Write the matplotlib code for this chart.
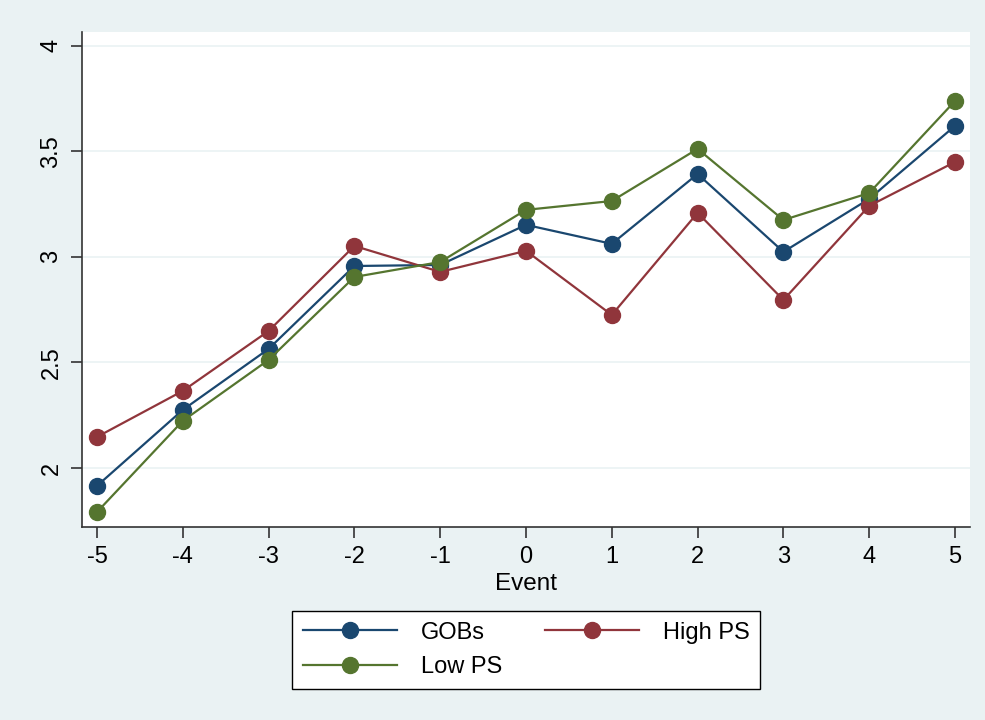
import matplotlib.pyplot as plt

events = [-5, -4, -3, -2, -1, 0, 1, 2, 3, 4, 5]
gobs = [1.915, 2.275, 2.564, 2.957, 2.962, 3.152, 3.062, 3.393, 3.024, 3.275, 3.621]
high_ps = [2.147, 2.365, 2.649, 3.052, 2.929, 3.029, 2.725, 3.209, 2.796, 3.242, 3.450]
low_ps = [1.791, 2.223, 2.512, 2.905, 2.976, 3.223, 3.265, 3.512, 3.175, 3.303, 3.739]
yticks = [2, 2.5, 3, 3.5, 4]
ytick_labels = ["2", "2.5", "3", "3.5", "4"]

plt.rcParams['font.family'] = ['Liberation Sans', 'DejaVu Sans']

bg = '#EAF2F3'
fig = plt.figure(figsize=(9.85, 7.2), dpi=100, facecolor=bg)
ax = fig.add_axes([0.0832, 0.268, 0.9016, 0.6876])
ax.set_facecolor('white')

ln1, = ax.plot(events, gobs, color='#1A476F', lw=1.6, marker='o', ms=11.5, label='GOBs')
ln2, = ax.plot(events, high_ps, color='#90353B', lw=1.6, marker='o', ms=11.5, label='High PS')
ln3, = ax.plot(events, low_ps, color='#55752F', lw=1.6, marker='o', ms=11.5, label='Low PS')

ax.set_xlim(-5.175, 5.175)
ax.set_ylim(1.72, 4.066)
ax.set_xticks(events)
ax.set_xticklabels([str(e) for e in events], fontsize=17)
ax.set_yticks(yticks)
ax.set_yticklabels(ytick_labels, fontsize=17, rotation=90, va='center')
ax.grid(axis='y', color=bg, lw=1.2)
ax.set_axisbelow(True)
for s in ['top', 'right']:
    ax.spines[s].set_visible(False)
for s in ['left', 'bottom']:
    ax.spines[s].set_color('#333333')
    ax.spines[s].set_linewidth(1.2)
ax.tick_params(direction='out', length=8, width=1.2, color='#333333', pad=6)
ax.set_xlabel('Event', fontsize=17.5, labelpad=3)

leg = fig.legend([ln1, ln3, ln2], ['GOBs', 'Low PS', 'High PS'], ncol=2,
                 loc='center', bbox_to_anchor=(526 / 985, 1 - 650 / 720),
                 fontsize=17, frameon=True, fancybox=False, edgecolor='black',
                 facecolor='white', framealpha=1,
                 handlelength=4.0, columnspacing=1.8, handletextpad=1.0,
                 labelspacing=0.55, borderpad=0.45)
leg.get_frame().set_linewidth(1.0)

fig.savefig('out.png', dpi=100, facecolor=bg)
